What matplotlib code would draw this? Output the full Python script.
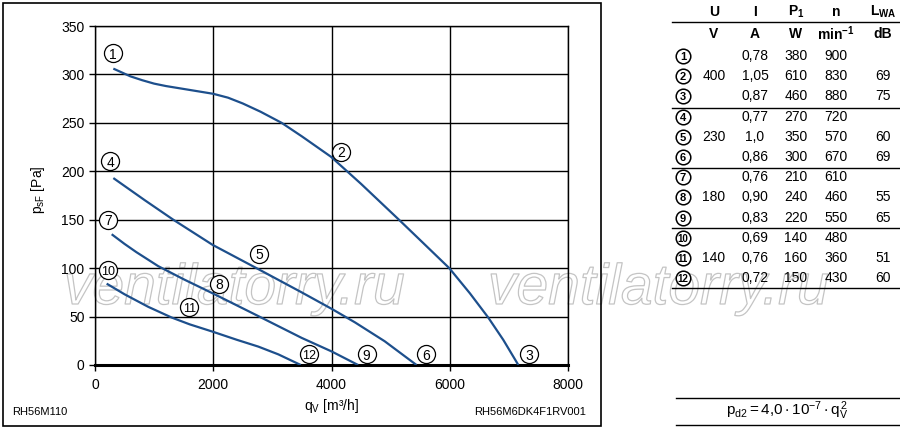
import matplotlib
matplotlib.use("Agg")
import matplotlib.pyplot as plt
import matplotlib.patheffects as pe
from matplotlib.patches import Rectangle

plt.rcParams['font.family'] = ['Liberation Sans', 'DejaVu Sans']
plt.rcParams['mathtext.fontset'] = 'custom'
plt.rcParams['mathtext.rm'] = 'Liberation Sans'
plt.rcParams['mathtext.it'] = 'Liberation Sans:italic'
plt.rcParams['mathtext.bf'] = 'Liberation Sans:bold'

# ---------------- data ----------------
q_400 = [310, 600, 800, 1000, 1200, 1500, 1800, 2000, 2250, 2500, 2800, 3157, 3500, 3991,
         4500, 5158, 5550, 5992, 6341, 6651, 6905, 7160]
p_400 = [306, 298, 294, 290.5, 288, 285, 282, 280, 276, 270, 261.5, 250, 236, 215,
         187, 149, 126, 100, 74, 49, 26, 0]
q_230 = [310, 845, 1324, 1990, 2762, 3495, 4002, 4397, 4900, 5438]
p_230 = [193, 170, 150, 124, 99, 75, 58, 44, 24.5, 0]
q_180 = [282, 500, 700, 1071, 1500, 1990, 2762, 3495, 4002, 4450]
p_180 = [135, 125, 116.5, 102, 88.5, 74, 50.5, 28, 14, 0]
q_140 = [197, 500, 902, 1297, 1600, 1990, 2400, 2762, 3100, 3480]
p_140 = [84, 73, 60, 49, 42, 34.4, 26, 19, 11, 0]

label_ids = list(range(1, 13))
label_q = [299, 4160, 7345, 254, 2779, 5598, 225, 2097, 4594, 215, 1595, 3619]
label_p = [322, 220, 11, 210.5, 115, 11, 150, 84, 11, 98, 59.5, 11]

x_ticks = [0, 2000, 4000, 6000, 8000]
y_ticks = [0, 50, 100, 150, 200, 250, 300, 350]

tbl_U = ['400', '230', '180', '140']
tbl_I = ['0,78', '1,05', '0,87', '0,77', '1,0', '0,86', '0,76', '0,90', '0,83', '0,69', '0,76', '0,72']
tbl_P1 = ['380', '610', '460', '270', '350', '300', '210', '240', '220', '140', '160', '150']
tbl_n = ['900', '830', '880', '720', '570', '670', '610', '460', '550', '480', '360', '430']
tbl_LWA = ['', '69', '75', '', '60', '69', '', '55', '65', '', '51', '60']
hdr1 = ['U', 'I', r'$\mathregular{P_1}$', 'n', r'$\mathregular{L_{WA}}$']
hdr2 = ['V', 'A', 'W', r'$\mathregular{min^{-1}}$', 'dB']

# ---------------- figure ----------------
W, H = 900, 429
fig = plt.figure(figsize=(9, 4.29), dpi=100)
fig.patch.set_facecolor('white')

# watermark layer (behind)
wm = fig.add_axes([0, 0, 1, 1], zorder=0)
wm.set_xlim(0, W)
wm.set_ylim(H, 0)
wm.axis('off')
for x0 in (64, 488):
    wm.text(x0, 304, 'ventilatorry.ru', fontsize=41, style='italic', color='none',
            ha='left', va='baseline',
            path_effects=[pe.Stroke(linewidth=0.9, foreground='#c4c4c4')])

ax = fig.add_axes([95 / W, 1 - 365 / H, 473 / W, 339 / H], zorder=1)
ax.patch.set_alpha(0)
ax.set_xlim(0, 8000)
ax.set_ylim(0, 350)
ax.set_xticks(x_ticks)
ax.set_yticks(y_ticks)
ax.grid(True, color='black', linewidth=1.0)
ax.set_axisbelow(True)
for s in ax.spines.values():
    s.set_linewidth(1.0)
ax.spines['bottom'].set_linewidth(2.2)
ax.tick_params(axis='both', labelsize=10, length=4.5, width=1.0, color='black', pad=3)
ax.tick_params(axis='x', pad=5)

curve_color = '#1d4f8c'
for q, p in [(q_400, p_400), (q_230, p_230), (q_180, p_180), (q_140, p_140)]:
    ax.plot(q, p, color=curve_color, linewidth=1.6, solid_capstyle='butt',
            solid_joinstyle='round', zorder=3)

for i, qx, py in zip(label_ids, label_q, label_p):
    ax.plot([qx], [py], marker='o', ms=13, mfc='white', mec='black', mew=0.9,
            clip_on=False, zorder=5)
    fs = 10 if i < 10 else 9
    ax.text(qx, py, str(i), ha='center', va='center_baseline', fontsize=fs, zorder=6,
            clip_on=False)

# ---------------- overlay in pixel coords ----------------
ov = fig.add_axes([0, 0, 1, 1], zorder=2)
ov.set_xlim(0, W)
ov.set_ylim(H, 0)
ov.axis('off')
ov.patch.set_alpha(0)

ov.add_patch(Rectangle((2.5, 2.5), 598, 423, fill=False, edgecolor='black', linewidth=1.2))

# axis labels
ov.text(331, 406, r'$\mathregular{q_V}$ [m³/h]', ha='center', va='center', fontsize=10)
ov.text(38, 190, r'$\mathregular{p_{sF}}$ [Pa]', ha='center', va='center', fontsize=10,
        rotation=90)
ov.text(12, 412, 'RH56M110', ha='left', va='center', fontsize=8)
ov.text(586, 412, 'RH56M6DK4F1RV001', ha='right', va='center', fontsize=8)

# table
col_x = [714, 755, 796, 836, 883]
for cx, t in zip(col_x, hdr1):
    ov.text(cx, 12, t, ha='center', va='center', fontsize=10, fontweight='bold')
for cx, t in zip(col_x, hdr2):
    ov.text(cx, 34, t, ha='center', va='center', fontsize=10, fontweight='bold')
for yl in (22, 108, 168, 228, 288):
    ov.plot([672, 900], [yl, yl], color='black', linewidth=1.0)

row_y0, row_dy = 56, 20.2
for r in range(12):
    y = row_y0 + r * row_dy
    ov.plot([683], [y], marker='o', ms=10.5, mfc='white', mec='black', mew=1.1)
    ov.text(683, y, str(r + 1), ha='center', va='center_baseline',
            fontsize=8 if r < 9 else 7, fontweight='bold')
    if r % 3 == 1:
        ov.text(col_x[0], y, tbl_U[r // 3], ha='center', va='center', fontsize=10)
    ov.text(col_x[1], y, tbl_I[r], ha='center', va='center', fontsize=10)
    ov.text(col_x[2], y, tbl_P1[r], ha='center', va='center', fontsize=10)
    ov.text(col_x[3], y, tbl_n[r], ha='center', va='center', fontsize=10)
    ov.text(col_x[4], y, tbl_LWA[r], ha='center', va='center', fontsize=10)

# formula box
for yl in (398, 425):
    ov.plot([676, 900], [yl, yl], color='black', linewidth=1.0)
ov.text(787, 411, r'$\mathregular{p_{d2} = 4{,}0 \cdot 10^{-7} \cdot q_V^{\,2}}$',
        ha='center', va='center', fontsize=11)

fig.savefig('out.png', dpi=100)
